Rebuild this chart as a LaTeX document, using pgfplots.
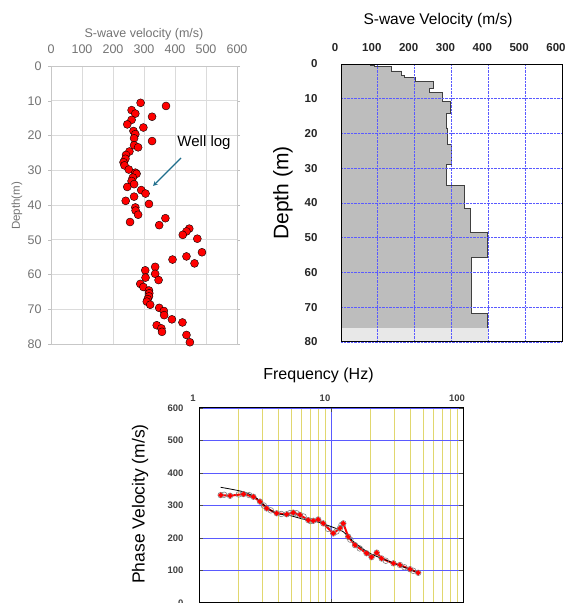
\documentclass[border=0pt]{standalone}
\usepackage{pgfplots}
\pgfplotsset{compat=1.18}
\usepackage{fontspec}
\setmainfont{Liberation Sans}
\definecolor{wellblue}{RGB}{31,110,140}
\definecolor{gridblue}{RGB}{90,90,255}
\definecolor{gridyel}{RGB}{225,215,110}
\begin{document}
\begin{tikzpicture}[x=1pt,y=1pt]
\useasboundingbox (0,0) rectangle (570,603);

% ---- top left: well log
\begin{axis}[
  at={(144pt,398pt)}, anchor=center,
  scale only axis, width=186pt, height=278pt,
  xmin=0, xmax=600, ymin=0, ymax=80, y dir=reverse,
  xtick={0,100,...,600}, ytick={0,10,...,80},
  xticklabel pos=upper,
  grid=major, major grid style={draw=black!14, line width=0.9pt},
  axis line style={draw=black!22, line width=0.9pt},
  xtick style={draw=none},
  ytick style={draw=black!25},
  tick align=outside, major tick length=3pt,
  /pgf/number format/assume math mode=true,
  ticklabel style={font=\fontsize{12.5}{14}\selectfont, text=black!55},
  xticklabel style={yshift=6pt},
  yticklabel style={xshift=-3pt},
]
\addplot[only marks, mark=*, mark size=4pt,
  mark options={fill=red, draw=black, line width=0.4pt}] coordinates {
(289,10.6) (371,11.5) (260,12.7) (272,13.7) (326,14.6) (260,15.5)
(246,16.8) (298,17.7) (266,18.7) (272,19.6) (268,20.8) (326,21.6)
(268,22.8) (281,23.4) (253,24.6) (242,25.6) (240,26.7) (234,27.7)
(237,28.6) (251,29.8) (272,30.7) (276,31.0) (264,32.1) (260,33.1)
(268,34.0) (246,34.8) (291,35.7) (305,36.7) (268,37.6) (241,38.8)
(316,39.7) (272,40.7) (273,41.6) (281,42.8) (369,43.8) (255,44.9)
(349,45.8) (446,46.8) (437,47.6) (425,48.6) (472,49.7) (487,53.6)
(437,54.8) (392,55.7) (463,56.8) (336,57.8) (304,58.8) (336,59.8)
(305,60.9) (347,61.6) (288,62.7) (298,63.6) (316,64.6) (317,65.4)
(316,66.3) (312,67.1) (309,67.8) (320,68.7) (349,69.6) (364,70.5)
(365,71.7) (390,72.9) (424,73.8) (341,74.6) (356,75.5) (358,76.5)
(437,77.4) (448,79.5)
};
\end{axis}

% ---- top right: velocity profile
\begin{axis}[
  at={(451.5pt,400pt)}, anchor=center,
  scale only axis, width=221pt, height=278pt,
  xmin=0, xmax=600, ymin=0, ymax=80, y dir=reverse,
  xtick={0,100,...,600}, ytick={0,10,...,80},
  xticklabel pos=upper,
  axis on top,
  grid=major, major grid style={draw=gridblue, densely dotted, line width=0.7pt},
  axis line style={line width=1pt},
  tick style={draw=none},
  /pgf/number format/assume math mode=true,
  ticklabel style={font=\fontsize{11.5}{13}\bfseries, text=black!85},
  xticklabel style={xshift=-6pt, yshift=9pt},
  yticklabel style={xshift=-20pt},
]
\addplot[fill=black!26, draw=black!75, line width=0.8pt] coordinates {
(0,0) (80,0) (80,0.4) (92,0.4) (92,0.8) (138,0.8) (138,2.0) (165,2.0)
(165,3.2) (171,3.2) (171,3.9) (201,3.9) (201,5.1) (250,5.1) (250,7.0)
(241,7.0) (241,8.3) (275,8.3) (275,10.8) (297,10.8) (297,14.1)
(286,14.1) (286,18.4) (290,18.4) (290,23.1) (301,23.1) (301,29.0)
(285,29.0) (285,35.0) (334,35.0) (334,41.5) (350,41.5) (350,48.5)
(398,48.5) (398,55.6) (355,55.6) (355,71.8) (398,71.8) (398,80) (0,80)
} -- cycle;
\addplot[fill=black!9, draw=none] coordinates {
(0,76.1) (398,76.1) (398,80) (0,80)
} -- cycle;
\end{axis}

% ---- bottom: dispersion curve
\begin{axis}[
  at={(331pt,97.5pt)}, anchor=center,
  scale only axis, width=264pt, height=195pt,
  xmode=log, xmin=1, xmax=100, ymin=0, ymax=600,
  xtick={1,10,100}, xticklabels={1,10,100},
  minor xtick={2,3,4,5,6,7,8,9,20,30,40,50,60,70,80,90},
  ytick={0,100,...,600},
  xticklabel pos=upper,
  grid=both,
  major grid style={draw=gridblue, line width=0.7pt},
  minor grid style={draw=gridyel, line width=0.6pt},
  axis line style={line width=1pt},
  tick style={draw=black!70},
  minor tick length=0pt,
  /pgf/number format/assume math mode=true,
  ticklabel style={font=\fontsize{9.5}{11}\bfseries, text=black!75},
  xticklabel style={xshift=-6pt, yshift=3pt},
  yticklabel style={xshift=-12pt},
]
\addplot[only marks, mark=o, mark size=2.8pt, draw=black!50, line width=0.6pt] coordinates {
(1.46,332) (1.55,333) (1.72,330) (2.0,334) (2.17,335) (2.4,332) (2.58,327)
(2.90,312) (3.1,300) (3.26,291) (3.5,285) (3.88,276) (4.2,274) (4.62,273)
(4.9,277) (5.18,278) (5.5,276) (5.82,271) (6.2,266) (6.73,255) (7.0,252)
(7.34,253) (8.0,257) (8.74,245) (9.5,228) (10.4,214) (11.0,220) (11.7,230)
(12.0,240) (12.4,245) (13.5,204) (14,195) (15.2,178) (16.5,168) (18.6,153)
(20.3,141) (22.2,155) (24.2,137) (26,130) (29.7,122) (33.3,117) (36,110)
(39.7,104) (42,99) (45.8,93)
};
\addplot[red, line width=2pt, mark=*, mark size=1.3pt] coordinates {
(1.46,332) (1.72,330) (2.17,335) (2.58,327) (2.90,312) (3.26,291)
(3.88,276) (4.62,273) (5.18,278) (5.82,271) (6.73,255) (7.34,253)
(8.0,257) (8.74,245) (10.4,214) (11.7,230) (12.4,245) (13.5,204)
(15.2,178) (18.6,153) (20.3,141) (22.2,155) (24.2,137) (29.7,122)
(33.3,117) (39.7,104) (45.8,93)
};
\addplot[black, line width=0.8pt, smooth] coordinates {
(1.46,356) (2.17,342) (2.74,322) (3.26,294) (3.88,276) (4.89,269)
(6.17,258) (7.79,250) (9.27,240) (10.5,232) (12.4,219) (14.8,189)
(19.7,153) (29.7,123) (45.8,93)
};
\end{axis}

% ---- titles and labels
\node[text=black!55, font=\fontsize{12.5}{14}\selectfont] at (144,569) {S-wave velocity (m/s)};
\node[text=black!55, rotate=90, font=\fontsize{11.5}{13}\selectfont] at (17,397) {Depth(m)};
\node[font=\fontsize{15}{17}\selectfont] at (204,460) {Well log};
\draw[-stealth, wellblue, line width=1.1pt] (181,445) -- (153,417);

\node[font=\fontsize{15.5}{18}\selectfont] at (438,583) {S-wave Velocity (m/s)};
\node[rotate=90, font=\fontsize{21}{24}\selectfont] at (283,410) {Depth (m)};

\node[font=\fontsize{16}{18}\selectfont] at (318.5,228) {Frequency (Hz)};
\node[rotate=90, font=\fontsize{17.5}{20}\selectfont] at (140,99) {Phase Velocity (m/s)};
\end{tikzpicture}
\end{document}
